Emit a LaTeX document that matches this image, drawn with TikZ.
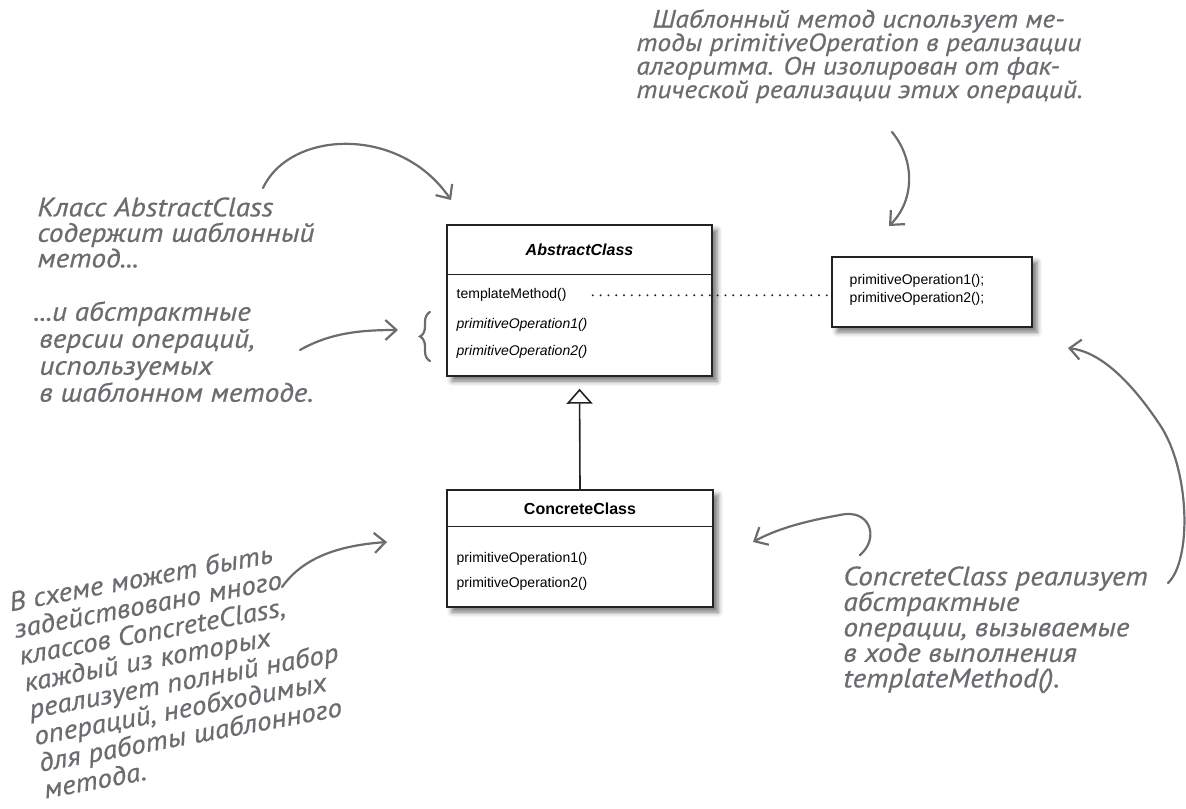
\documentclass[tikz,border=0pt]{standalone}
\usepackage{fontspec}
\usepackage{xcolor}
\usepackage{tikz}
\usetikzlibrary{arrows.meta, positioning, calc, shadows, shadows.blur, decorations.pathreplacing}
\newfontfamily\umlfont{Liberation Sans}
\newfontfamily\notefont[FakeStretch=1.1, FakeBold=0.6]{PT Sans}
\definecolor{NoteGray}{RGB}{108, 108, 112}
\definecolor{BoxLine}{RGB}{35, 35, 35}
\tikzset{
  classbox/.style={draw=BoxLine, line width=0.7pt, fill=white, inner sep=0pt,
    blur shadow={shadow xshift=2.5pt, shadow yshift=-2.5pt, shadow blur radius=2.5pt, shadow opacity=55}},
  umltitle/.style={font=\umlfont\bfseries\fontsize{8}{9}\selectfont, inner sep=0pt},
  umlitem/.style={font=\umlfont\fontsize{7}{8}\selectfont, anchor=west, inner sep=0pt},
  note/.style={font=\notefont\itshape\fontsize{13.3}{12.75}\selectfont, text=NoteGray, align=left, inner sep=0pt, anchor=north west},
  notearrow/.style={draw=NoteGray, line width=1.1pt, line cap=round, -{Straight Barb[length=5.5pt, width=10pt]}}
}

\begin{document}
\begin{tikzpicture}[x=0.5pt, y=-0.5pt]
    \useasboundingbox (0,0) rectangle (1186,808);

    \node[classbox, minimum width=132.5pt, minimum height=75.5pt] (abstract) at (579.5,300.5) {};
    \draw[BoxLine, line width=0.7pt] ($(abstract.north west)+(0,50)$) -- ($(abstract.north east)+(0,50)$);
    \node[umltitle] (abstitle) at ($(abstract.north)+(0,25)$) {\itshape AbstractClass};
    \node[umlitem] (tm) at ($(abstract.north west)+(10,71)$) {templateMethod()};
    \node[umlitem] (apo1) at ($(abstract.north west)+(10,101)$) {\itshape primitiveOperation1()};
    \node[umlitem] (apo2) at ($(abstract.north west)+(10,128)$) {\itshape primitiveOperation2()};

    \node[classbox, minimum width=133pt, minimum height=58.5pt] (concrete) at (580,548.5) {};
    \draw[BoxLine, line width=0.7pt] ($(concrete.north west)+(0,37)$) -- ($(concrete.north east)+(0,37)$);
    \node[umltitle] (contitle) at ($(concrete.north)+(0,19)$) {ConcreteClass};
    \node[umlitem] (cpo1) at ($(concrete.north west)+(10,70)$) {primitiveOperation1()};
    \node[umlitem] (cpo2) at ($(concrete.north west)+(10,95)$) {primitiveOperation2()};

    \node[classbox, minimum width=100pt, minimum height=35pt] (ops) at (932,292) {};
    \node[umlitem] (ops1) at ($(ops.north west)+(18,25)$) {primitiveOperation1();};
    \node[umlitem] (ops2) at ($(ops.north west)+(18,43)$) {primitiveOperation2();};

    \draw[BoxLine, line width=0.8pt, -{Triangle[open, length=7.5pt, width=13pt]}, shorten >=6pt] (concrete.north) -- (abstract.south);
    \draw[BoxLine, line width=1.1pt, line cap=round, dash pattern=on 0pt off 3.9pt, shorten <=13pt] (tm.east) -- (tm.east -| ops.west);

    \node[note, font=\notefont\itshape\fontsize{12.5}{11.75}\selectfont] (tplnote) at (636,9)
      {\hspace*{8pt}Шаблонный метод использует ме-\\тоды primitiveOperation в реализации\\алгоритма. Он изолирован от фак-\\тической реализации этих операций.};
    \node[note] (absnote) at (37,197) {Класс AbstractClass\\содержит шаблонный\\метод...};
    \node[note, font=\notefont\itshape\fontsize{13.3}{13.5}\selectfont] (opsnote) at (33,301) {...и абстрактные\\\hspace*{3pt}версии операций,\\\hspace*{3pt}используемых\\\hspace*{3pt}в шаблонном методе.};
    \node[note] (impnote) at (843,566) {ConcreteClass реализует\\абстрактные\\операции, вызываемые\\в ходе выполнения\\templateMethod().};
    \node[note, rotate=10.5, font=\notefont\itshape\fontsize{13.3}{13.6}\selectfont] (manynote) at (7,592)
      {В схеме может быть\\задействовано много\\классов ConcreteClass,\\каждый из которых\\реализует полный набор\\операций, необходимых\\для работы шаблонного\\метода.};

    \coordinate (absfrom) at (263,188);
    \coordinate (absto) at (451,200);
    \coordinate (opsfrom) at (300,350);
    \coordinate (opsto) at (398,330);
    \coordinate (tplfrom) at (892,132);
    \coordinate (tplto) at (889,226);
    \coordinate (impfrom) at (860,555);
    \coordinate (impto) at (753,542);
    \coordinate (callfrom) at (1168,583);
    \coordinate (callto) at (1068,348);
    \coordinate (manyfrom) at (282,587);
    \coordinate (manyto) at (387,542);

    \draw[notearrow] (absfrom) .. controls (290,130) and (400,125) .. (absto);
    \draw[notearrow] (opsfrom) .. controls (330,333) and (360,330) .. (opsto);
    \draw[NoteGray, line width=1.1pt, line cap=round, decorate, decoration={brace, amplitude=5pt}] (430,361) -- (430,312);
    \draw[notearrow] (tplfrom) .. controls (915,160) and (915,200) .. (tplto);
    \draw[notearrow] (impfrom) .. controls (880,538) and (870,508) .. (840,515) .. controls (800,522) and (775,530) .. (impto);
    \draw[notearrow] (callfrom) .. controls (1192,560) and (1190,470) .. (1160,425) .. controls (1130,380) and (1100,352) .. (callto);
    \draw[notearrow] (manyfrom) .. controls (300,562) and (330,546) .. (manyto);
  \end{tikzpicture}
\end{document}
